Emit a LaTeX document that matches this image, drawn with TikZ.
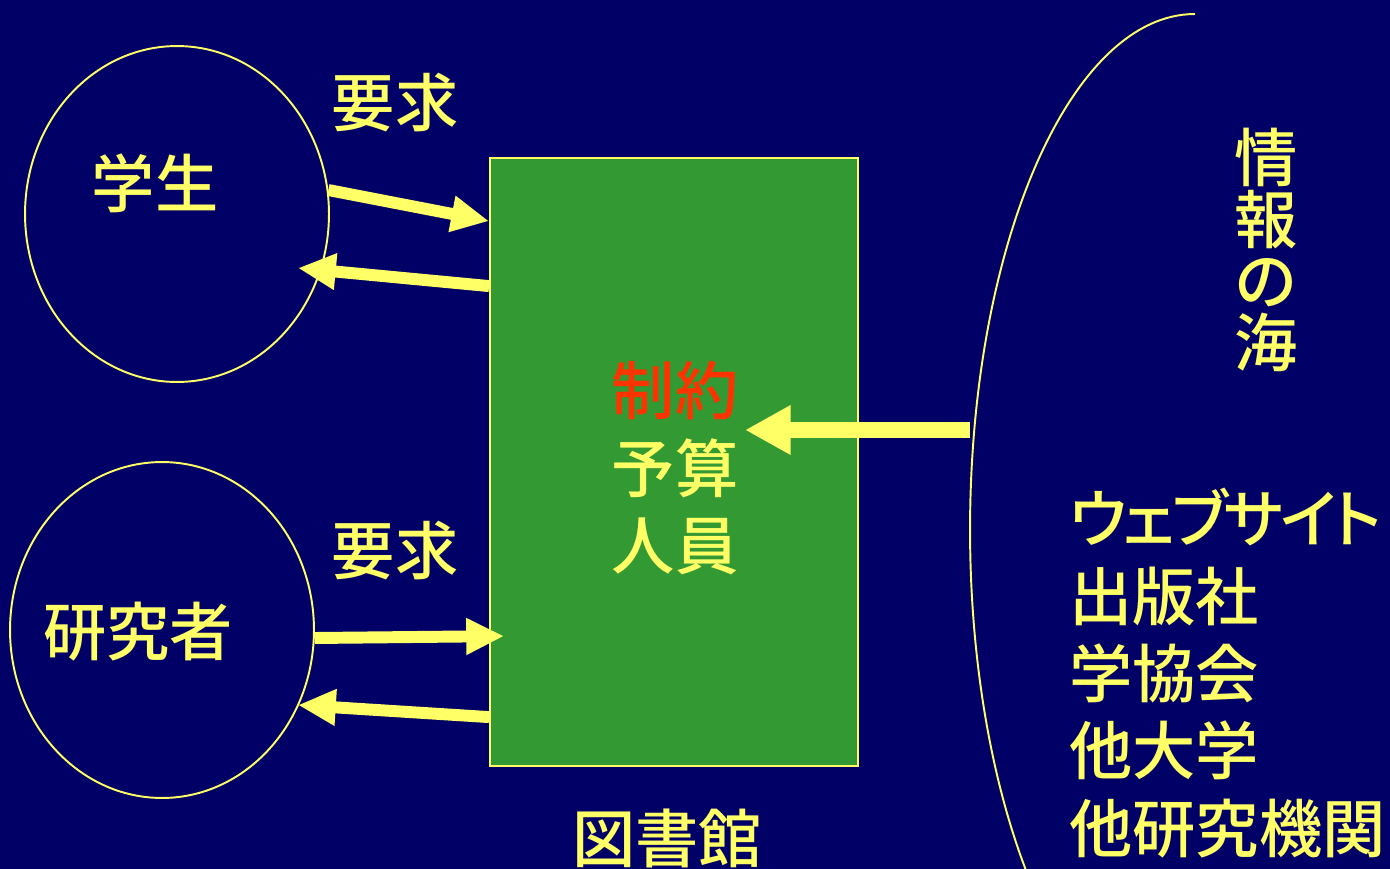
\documentclass[tikz,border=0pt]{standalone}
\usepackage{fontspec}
\setmainfont{Noto Sans CJK JP}[BoldFont={Noto Sans CJK JP Medium}]
\newfontfamily\jpprop{Noto Sans CJK JP}[BoldFont={Noto Sans CJK JP Medium}, RawFeature=+palt, LetterSpace=-5]
\usepackage{tikz}
\usetikzlibrary{arrows.meta, shapes.geometric, calc, positioning}
\definecolor{seablue}{HTML}{000066}
\definecolor{hiyellow}{HTML}{FFFF66}
\definecolor{libgreen}{HTML}{339933}
\definecolor{limitred}{HTML}{FF3300}
\newcommand{\bigjp}[0]{\bfseries\fontsize{36}{44}\selectfont}

\begin{document}
\begin{tikzpicture}[x=0.02cm, y=-0.02cm,
    label/.style={inner sep=0pt, text=hiyellow, font=\bigjp},
    user/.style={ellipse, draw=hiyellow, line width=1.1pt, minimum width=6.08cm, minimum height=6.72cm, inner sep=0pt},
    request/.style={hiyellow, line width=6.8pt, -{Triangle[length=21.5pt, width=19.5pt]}},
    flow/.style={hiyellow, line width=9pt, -{Triangle[length=26pt, width=26.5pt]}}]
    \useasboundingbox (0,0) rectangle (1390,869);
    \clip (0,0) rectangle (1390,869);
    \fill[seablue] (0,0) rectangle (1390,869);
    % users
    \node[user] (student) at (177,214) {};
    \node[user] (research) at (162,630) {};
    \node[label] (studentlbl) at (155,183) {学生};
    \node[label] (researchlbl) at (138,632) {研究者};
    % library
    \node[draw=hiyellow, fill=libgreen, line width=1.1pt, minimum width=7.36cm, minimum height=12.16cm, inner sep=0pt] (lib) at (674,462) {};
    \node[label, align=center] (limits) at (675,468) {\textcolor{limitred}{制約}\\予算\\人員};
    \node[label] (liblbl) at (667,838) {図書館};
    % sea of information
    \draw[hiyellow, line width=1.1pt] (1195,14) arc[start angle=90, end angle=228, x radius=4.5cm, y radius=10.32cm];
    \coordinate (seaedge) at (970,430);
    \node[label, align=center, font=\bfseries\fontsize{36}{35}\selectfont] (sealbl) at (1266,250) {情\\報\\の\\海};
    \node[label, align=left, anchor=west] (sources) at (1069,673) {{\jpprop ウェブサイト}\\出版社\\学協会\\他大学\\他研究機関};
    % requests
    \node[label] (req1) at (395,103) {要求};
    \node[label] (req2) at (395,551) {要求};
    \coordinate (stip) at (298,268);
    \coordinate (rtip) at (298,705);
    \draw[request] (student.9) -- ($(lib.north west)+(0,64)$);
    \draw[request] ($(lib.north west)+(0,129)$) -- (stip);
    \draw[request] (research.-3) -- ($(lib.north west)+(15,479)$);
    \draw[request] ($(lib.north west)+(0,560)$) -- (rtip);
    \draw[flow] (seaedge) -- (745,430);
\end{tikzpicture}
\end{document}
